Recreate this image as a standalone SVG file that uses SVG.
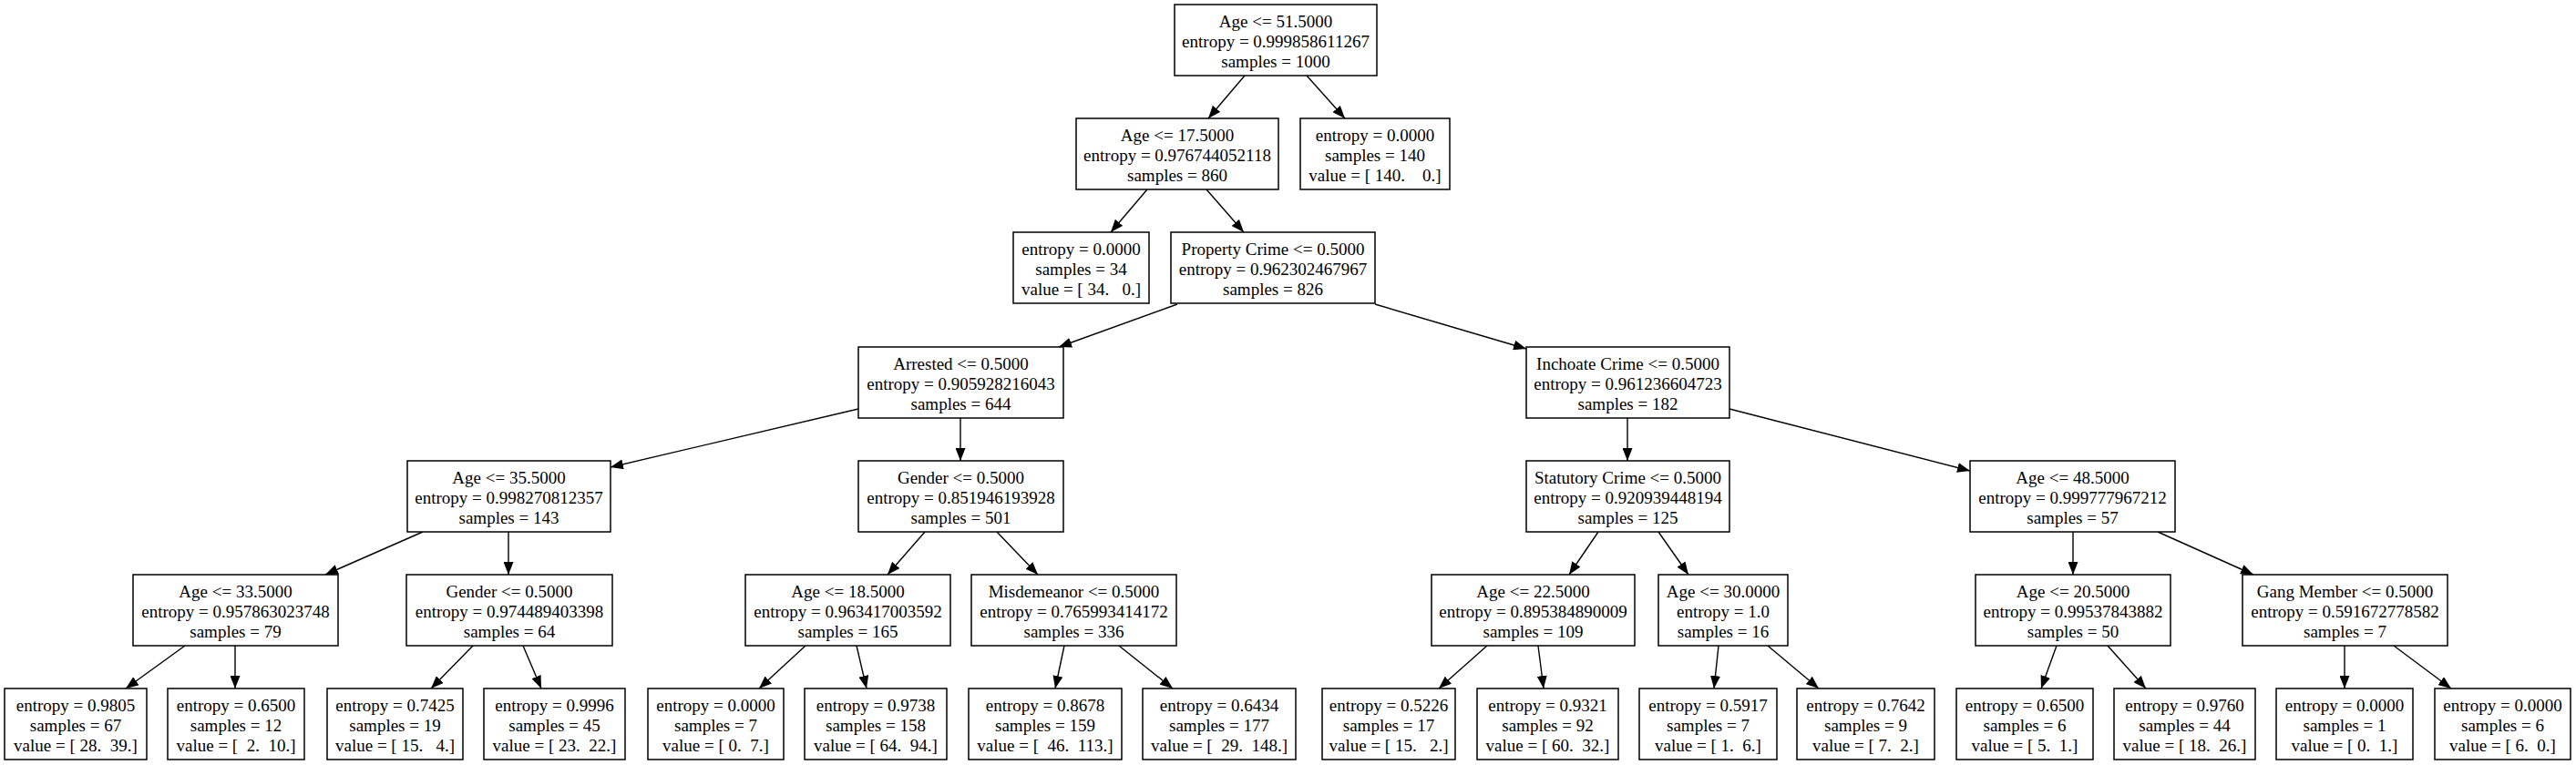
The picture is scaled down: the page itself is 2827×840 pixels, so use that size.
<svg xmlns="http://www.w3.org/2000/svg" width="2827" height="840" viewBox="0 0 2827 840">
<style>
.n rect{fill:#fff;stroke:#000;stroke-width:1.5}
.n text{font-family:"Liberation Serif","Times New Roman",serif;font-size:19px;fill:#000;text-anchor:middle;white-space:pre}
.e line{stroke:#000;stroke-width:1.4;marker-end:url(#ah)}
</style>
<defs>
<marker id="ah" viewBox="0 0 14 11" refX="14" refY="5.5" markerWidth="14" markerHeight="11" markerUnits="userSpaceOnUse" orient="auto"><path d="M0,0 L14,5.5 L0,11 z" fill="#000"/></marker>
</defs>
<rect width="2827" height="840" fill="#fff"/>
<g id="edges" class="e">
<line x1="1366" y1="83" x2="1326" y2="130"/>
<line x1="1434" y1="83" x2="1476" y2="130"/>
<line x1="1259" y1="208" x2="1219" y2="255"/>
<line x1="1324" y1="208" x2="1365" y2="255"/>
<line x1="1292" y1="334" x2="1162" y2="381"/>
<line x1="1509" y1="334" x2="1675" y2="383"/>
<line x1="942" y1="449" x2="670" y2="513"/>
<line x1="1054" y1="459" x2="1054" y2="506"/>
<line x1="1786" y1="459" x2="1786" y2="506"/>
<line x1="1898" y1="449" x2="2162" y2="517"/>
<line x1="464" y1="584" x2="357" y2="631"/>
<line x1="558" y1="584" x2="558" y2="631"/>
<line x1="1015" y1="584" x2="974" y2="631"/>
<line x1="1094" y1="584" x2="1139" y2="631"/>
<line x1="1754" y1="584" x2="1722" y2="631"/>
<line x1="1820" y1="584" x2="1853" y2="631"/>
<line x1="2275" y1="584" x2="2275" y2="631"/>
<line x1="2368" y1="584" x2="2473" y2="631"/>
<line x1="203" y1="709" x2="138" y2="756"/>
<line x1="258" y1="709" x2="258" y2="756"/>
<line x1="519" y1="709" x2="473" y2="756"/>
<line x1="574" y1="709" x2="594" y2="756"/>
<line x1="884" y1="709" x2="833" y2="756"/>
<line x1="940" y1="709" x2="951" y2="756"/>
<line x1="1168" y1="709" x2="1158" y2="756"/>
<line x1="1228" y1="709" x2="1287" y2="756"/>
<line x1="1632" y1="709" x2="1579" y2="756"/>
<line x1="1688" y1="709" x2="1694" y2="756"/>
<line x1="1886" y1="709" x2="1881" y2="756"/>
<line x1="1940" y1="709" x2="1996" y2="756"/>
<line x1="2257" y1="709" x2="2240" y2="756"/>
<line x1="2313" y1="709" x2="2355" y2="756"/>
<line x1="2573" y1="709" x2="2573" y2="756"/>
<line x1="2627" y1="709" x2="2690" y2="756"/>
</g>
<g id="n0" class="n"><rect x="1289" y="5" width="222" height="78"/><text x="1400" y="30">Age &lt;= 51.5000</text><text x="1400" y="52">entropy = 0.999858611267</text><text x="1400" y="74">samples = 1000</text></g>
<g id="n1" class="n"><rect x="1181" y="130" width="222" height="78"/><text x="1292" y="155">Age &lt;= 17.5000</text><text x="1292" y="177">entropy = 0.976744052118</text><text x="1292" y="199">samples = 860</text></g>
<g id="n2" class="n"><rect x="1427" y="130" width="164" height="78"/><text x="1509" y="155">entropy = 0.0000</text><text x="1509" y="177">samples = 140</text><text x="1509" y="199">value = [ 140.    0.]</text></g>
<g id="n3" class="n"><rect x="1112" y="255" width="149" height="78"/><text x="1186.5" y="280">entropy = 0.0000</text><text x="1186.5" y="302">samples = 34</text><text x="1186.5" y="324">value = [ 34.   0.]</text></g>
<g id="n4" class="n"><rect x="1285" y="255" width="224" height="78"/><text x="1397" y="280">Property Crime &lt;= 0.5000</text><text x="1397" y="302">entropy = 0.962302467967</text><text x="1397" y="324">samples = 826</text></g>
<g id="n5" class="n"><rect x="942" y="381" width="225" height="78"/><text x="1054.5" y="406">Arrested &lt;= 0.5000</text><text x="1054.5" y="428">entropy = 0.905928216043</text><text x="1054.5" y="450">samples = 644</text></g>
<g id="n6" class="n"><rect x="1675" y="381" width="223" height="78"/><text x="1786.5" y="406">Inchoate Crime &lt;= 0.5000</text><text x="1786.5" y="428">entropy = 0.961236604723</text><text x="1786.5" y="450">samples = 182</text></g>
<g id="n7" class="n"><rect x="447" y="506" width="223" height="78"/><text x="558.5" y="531">Age &lt;= 35.5000</text><text x="558.5" y="553">entropy = 0.998270812357</text><text x="558.5" y="575">samples = 143</text></g>
<g id="n8" class="n"><rect x="942" y="506" width="225" height="78"/><text x="1054.5" y="531">Gender &lt;= 0.5000</text><text x="1054.5" y="553">entropy = 0.851946193928</text><text x="1054.5" y="575">samples = 501</text></g>
<g id="n9" class="n"><rect x="1675" y="506" width="223" height="78"/><text x="1786.5" y="531">Statutory Crime &lt;= 0.5000</text><text x="1786.5" y="553">entropy = 0.920939448194</text><text x="1786.5" y="575">samples = 125</text></g>
<g id="n10" class="n"><rect x="2162" y="506" width="225" height="78"/><text x="2274.5" y="531">Age &lt;= 48.5000</text><text x="2274.5" y="553">entropy = 0.999777967212</text><text x="2274.5" y="575">samples = 57</text></g>
<g id="n11" class="n"><rect x="146" y="631" width="225" height="78"/><text x="258.5" y="656">Age &lt;= 33.5000</text><text x="258.5" y="678">entropy = 0.957863023748</text><text x="258.5" y="700">samples = 79</text></g>
<g id="n12" class="n"><rect x="446" y="631" width="226" height="78"/><text x="559" y="656">Gender &lt;= 0.5000</text><text x="559" y="678">entropy = 0.974489403398</text><text x="559" y="700">samples = 64</text></g>
<g id="n13" class="n"><rect x="818" y="631" width="225" height="78"/><text x="930.5" y="656">Age &lt;= 18.5000</text><text x="930.5" y="678">entropy = 0.963417003592</text><text x="930.5" y="700">samples = 165</text></g>
<g id="n14" class="n"><rect x="1066" y="631" width="225" height="78"/><text x="1178.5" y="656">Misdemeanor &lt;= 0.5000</text><text x="1178.5" y="678">entropy = 0.765993414172</text><text x="1178.5" y="700">samples = 336</text></g>
<g id="n15" class="n"><rect x="1571" y="631" width="223" height="78"/><text x="1682.5" y="656">Age &lt;= 22.5000</text><text x="1682.5" y="678">entropy = 0.895384890009</text><text x="1682.5" y="700">samples = 109</text></g>
<g id="n16" class="n"><rect x="1820" y="631" width="142" height="78"/><text x="1891" y="656">Age &lt;= 30.0000</text><text x="1891" y="678">entropy = 1.0</text><text x="1891" y="700">samples = 16</text></g>
<g id="n17" class="n"><rect x="2168" y="631" width="214" height="78"/><text x="2275" y="656">Age &lt;= 20.5000</text><text x="2275" y="678">entropy = 0.99537843882</text><text x="2275" y="700">samples = 50</text></g>
<g id="n18" class="n"><rect x="2461" y="631" width="225" height="78"/><text x="2573.5" y="656">Gang Member &lt;= 0.5000</text><text x="2573.5" y="678">entropy = 0.591672778582</text><text x="2573.5" y="700">samples = 7</text></g>
<g id="l1" class="n"><rect x="5" y="756" width="156" height="78"/><text x="83" y="781">entropy = 0.9805</text><text x="83" y="803">samples = 67</text><text x="83" y="825">value = [ 28.  39.]</text></g>
<g id="l2" class="n"><rect x="184" y="756" width="150" height="78"/><text x="259" y="781">entropy = 0.6500</text><text x="259" y="803">samples = 12</text><text x="259" y="825">value = [  2.  10.]</text></g>
<g id="l3" class="n"><rect x="359" y="756" width="149" height="78"/><text x="433.5" y="781">entropy = 0.7425</text><text x="433.5" y="803">samples = 19</text><text x="433.5" y="825">value = [ 15.   4.]</text></g>
<g id="l4" class="n"><rect x="531" y="756" width="155" height="78"/><text x="608.5" y="781">entropy = 0.9996</text><text x="608.5" y="803">samples = 45</text><text x="608.5" y="825">value = [ 23.  22.]</text></g>
<g id="l5" class="n"><rect x="711" y="756" width="149" height="78"/><text x="785.5" y="781">entropy = 0.0000</text><text x="785.5" y="803">samples = 7</text><text x="785.5" y="825">value = [ 0.  7.]</text></g>
<g id="l6" class="n"><rect x="883" y="756" width="156" height="78"/><text x="961" y="781">entropy = 0.9738</text><text x="961" y="803">samples = 158</text><text x="961" y="825">value = [ 64.  94.]</text></g>
<g id="l7" class="n"><rect x="1063" y="756" width="168" height="78"/><text x="1147" y="781">entropy = 0.8678</text><text x="1147" y="803">samples = 159</text><text x="1147" y="825">value = [  46.  113.]</text></g>
<g id="l8" class="n"><rect x="1254" y="756" width="168" height="78"/><text x="1338" y="781">entropy = 0.6434</text><text x="1338" y="803">samples = 177</text><text x="1338" y="825">value = [  29.  148.]</text></g>
<g id="l9" class="n"><rect x="1451" y="756" width="146" height="78"/><text x="1524" y="781">entropy = 0.5226</text><text x="1524" y="803">samples = 17</text><text x="1524" y="825">value = [ 15.   2.]</text></g>
<g id="l10" class="n"><rect x="1621" y="756" width="155" height="78"/><text x="1698.5" y="781">entropy = 0.9321</text><text x="1698.5" y="803">samples = 92</text><text x="1698.5" y="825">value = [ 60.  32.]</text></g>
<g id="l11" class="n"><rect x="1799" y="756" width="151" height="78"/><text x="1874.5" y="781">entropy = 0.5917</text><text x="1874.5" y="803">samples = 7</text><text x="1874.5" y="825">value = [ 1.  6.]</text></g>
<g id="l12" class="n"><rect x="1972" y="756" width="151" height="78"/><text x="2047.5" y="781">entropy = 0.7642</text><text x="2047.5" y="803">samples = 9</text><text x="2047.5" y="825">value = [ 7.  2.]</text></g>
<g id="l13" class="n"><rect x="2147" y="756" width="150" height="78"/><text x="2222" y="781">entropy = 0.6500</text><text x="2222" y="803">samples = 6</text><text x="2222" y="825">value = [ 5.  1.]</text></g>
<g id="l14" class="n"><rect x="2320" y="756" width="155" height="78"/><text x="2397.5" y="781">entropy = 0.9760</text><text x="2397.5" y="803">samples = 44</text><text x="2397.5" y="825">value = [ 18.  26.]</text></g>
<g id="l15" class="n"><rect x="2498" y="756" width="150" height="78"/><text x="2573" y="781">entropy = 0.0000</text><text x="2573" y="803">samples = 1</text><text x="2573" y="825">value = [ 0.  1.]</text></g>
<g id="l16" class="n"><rect x="2672" y="756" width="149" height="78"/><text x="2746.5" y="781">entropy = 0.0000</text><text x="2746.5" y="803">samples = 6</text><text x="2746.5" y="825">value = [ 6.  0.]</text></g>
</svg>
